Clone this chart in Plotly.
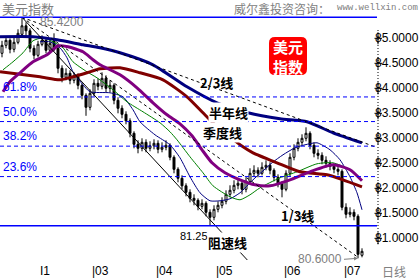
import plotly.graph_objects as go

W, H = 420, 280
ML, MR, MT, MB = 0, 42, 0, 20
PW, PH = W - ML - MR, H - MT - MB  # plot area 378 x 260


def px(xp):
    return xp / PW


def py(yp):
    return (PH - yp) / PH


# ---------------- data ----------------
idx = list(range(91))
opens = [84.70, 84.86, 84.96, 84.78, 84.92, 85.08, 85.25, 85.15, 84.80, 84.66,
         84.88, 84.96, 84.76, 84.95, 84.80, 84.40, 84.22, 84.30, 84.16, 84.24,
         84.06, 83.86, 83.62, 83.90, 84.10, 84.04, 84.20, 84.00, 84.06, 83.76,
         83.60, 83.48, 83.35, 83.10, 82.88, 82.80, 82.92, 82.80, 82.85, 82.90,
         82.78, 82.82, 82.86, 82.62, 82.38, 82.20, 82.05, 81.92, 81.80, 81.76,
         81.64, 81.70, 81.52, 81.42, 81.58, 81.66, 81.74, 81.88, 81.96, 82.06,
         82.10, 81.98, 82.14, 82.30, 82.36, 82.30, 82.42, 82.46, 82.36, 82.22,
         82.10, 81.98, 82.30, 82.62, 82.80, 82.92, 83.00, 83.10, 82.86, 82.70,
         82.66, 82.56, 82.50, 82.44, 82.38, 82.34, 81.62, 81.48, 81.52, 81.44,
         80.66]
closes = [84.86, 84.96, 84.78, 84.92, 85.10, 85.25, 85.15, 84.80, 84.66, 84.88,
          84.96, 84.76, 84.90, 84.80, 84.40, 84.22, 84.30, 84.16, 84.24, 84.06,
          83.86, 83.62, 83.90, 84.10, 84.04, 84.20, 84.00, 84.06, 83.76, 83.60,
          83.48, 83.35, 83.10, 82.88, 82.80, 82.92, 82.80, 82.85, 82.90, 82.78,
          82.82, 82.86, 82.62, 82.38, 82.20, 82.05, 81.92, 81.80, 81.76, 81.64,
          81.70, 81.52, 81.42, 81.58, 81.66, 81.74, 81.88, 81.96, 82.06, 82.10,
          81.98, 82.14, 82.30, 82.36, 82.30, 82.42, 82.46, 82.36, 82.22, 82.10,
          81.98, 82.30, 82.62, 82.80, 82.92, 83.00, 83.10, 82.86, 82.70, 82.66,
          82.56, 82.50, 82.44, 82.38, 82.34, 81.62, 81.48, 81.52, 81.44, 80.68,
          80.74]
highs = [84.95, 85.04, 85.00, 85.02, 85.18, 85.42, 85.32, 85.20, 84.86, 84.95,
         85.06, 85.00, 84.98, 85.10, 84.84, 84.46, 84.40, 84.36, 84.32, 84.30,
         84.10, 83.90, 83.98, 84.18, 84.20, 84.32, 84.26, 84.16, 84.10, 83.82,
         83.66, 83.54, 83.40, 83.14, 82.96, 83.00, 82.98, 82.94, 82.98, 82.96,
         82.92, 82.96, 82.90, 82.66, 82.42, 82.26, 82.10, 81.98, 81.88, 81.80,
         81.78, 81.74, 81.58, 81.66, 81.74, 81.82, 81.96, 82.06, 82.16, 82.20,
         82.14, 82.22, 82.40, 82.46, 82.42, 82.52, 82.56, 82.52, 82.40, 82.28,
         82.14, 82.36, 82.70, 82.88, 83.00, 83.08, 83.22, 83.14, 82.92, 82.78,
         82.72, 82.64, 82.56, 82.50, 82.44, 82.38, 81.70, 81.62, 81.58, 81.48,
         80.80]
lows = [84.62, 84.80, 84.70, 84.72, 84.88, 85.02, 85.05, 84.72, 84.58, 84.62,
        84.84, 84.70, 84.72, 84.74, 84.30, 84.12, 84.16, 84.08, 84.10, 83.98,
        83.78, 83.45, 83.56, 83.84, 83.96, 83.98, 83.92, 83.92, 83.68, 83.50,
        83.40, 83.28, 83.02, 82.80, 82.70, 82.74, 82.72, 82.74, 82.78, 82.70,
        82.72, 82.76, 82.56, 82.30, 82.12, 81.98, 81.84, 81.72, 81.66, 81.56,
        81.58, 81.44, 81.25, 81.36, 81.52, 81.60, 81.68, 81.82, 81.90, 81.98,
        81.88, 81.92, 82.08, 82.24, 82.22, 82.26, 82.36, 82.28, 82.14, 82.02,
        81.82, 81.94, 82.24, 82.56, 82.74, 82.86, 82.94, 82.78, 82.62, 82.58,
        82.48, 82.42, 82.36, 82.30, 82.26, 81.56, 81.40, 81.42, 81.36, 80.60,
        80.62]

# moving-average style lines (x in candle index)
halfyear_x = [-0.5, 7.75, 13.75, 20.25, 24.5, 29.5, 37.75, 46.25, 53.75, 61.5, 69.5, 76.25, 82.75, 90]
halfyear_y = [85.03, 85.03, 84.97, 84.87, 84.81, 84.71, 84.47, 84.03, 83.71, 83.51, 83.39, 83.33, 83.11, 82.91]

darkred_x = [-0.5, 9.5, 14.5, 17.75, 21.25, 24.5, 29.5, 34.5, 40.25, 46.25, 50.25, 52.75, 57, 60.25,
             62.75, 68.75, 74.5, 81.25, 85.25, 90]
darkred_y = [84.33, 84.23, 84.17, 84.23, 84.31, 84.39, 84.41, 84.31, 84.17, 83.83, 83.51, 83.31, 83.03,
             82.83, 82.71, 82.51, 82.33, 82.27, 82.17, 82.03]

purple_x = [0.25, 2, 4.5, 7.75, 11.25, 14, 16.5, 20.25, 22.75, 24.5, 29.5, 33.75, 37.75, 41.25, 44.5,
            47.5, 50, 52.5, 55.75, 59.5, 63.25, 67, 72, 77, 82.75, 87, 90]
purple_y = [83.93, 84.13, 84.31, 84.53, 84.67, 84.85, 84.83, 84.73, 84.57, 84.47, 84.27, 84.01, 83.71,
            83.47, 83.29, 83.05, 82.77, 82.51, 82.31, 82.17, 82.07, 82.05, 82.17, 82.33, 82.47, 82.37, 82.15]

green_x = [0.25, 2.75, 5.25, 7.75, 10.25, 12.75, 15.25, 17.75, 21.25, 23.75, 27.75, 31.25, 35.25, 39.5,
           42, 43.75, 47, 50.25, 52.75, 57, 59.5, 62, 64.5, 69.5, 73.75, 78.75, 82.75, 87, 89.5]
green_y = [84.37, 84.53, 84.71, 84.95, 85.01, 84.93, 84.81, 84.53, 84.33, 84.21, 83.97, 83.73, 83.53,
           83.31, 83.13, 82.97, 82.63, 82.31, 82.05, 81.83, 81.77, 81.87, 82.01, 82.21, 82.33, 82.49,
           82.51, 82.37, 82.17]

thin_x = [9.5, 12, 14.5, 16.25, 17.75, 20.25, 22, 27, 30.25, 32.75, 34.5, 38.25, 42, 44.5, 47, 49.5,
          52, 54.5, 57, 59.5, 62.75, 65, 67.5, 70.25, 73.25, 75.75, 78.75, 82, 84.5, 87, 88.75, 90]
thin_y = [84.93, 84.93, 84.81, 84.61, 84.33, 84.07, 83.93, 83.91, 83.83, 83.57, 83.33, 83.07, 82.87,
          82.61, 82.23, 81.91, 81.75, 81.75, 81.79, 81.91, 82.17, 82.33, 82.51, 82.67, 82.81, 82.87,
          82.91, 82.77, 82.57, 82.23, 81.91, 81.57]

peak_i, peak_v = 5, 85.42
low_i, low_v = 52, 81.25
last_low_i, last_low_v = 89, 80.60
line23_end = (93.25, 82.83)
line13_end = (89, 80.62)
speed_end = (61.75, 80.53)

fib_ratios = [0.618, 0.5, 0.382, 0.236]
fib_labels = ["61.8%", "50.0%", "38.2%", "23.6%"]

ytick_vals = [85.0, 84.5, 84.0, 83.5, 83.0, 82.5, 82.0, 81.5, 81.0]
xtick_pos = [9, 22, 38, 53, 70, 85]
xtick_text = ["I1", "|03", "|04", "|05", "|06", "|07"]

# ---------------- figure ----------------
X0, X1 = -0.5, 94.0
Y0, Y1 = 80.566, 85.766

fig = go.Figure()
fig.add_trace(go.Candlestick(
    x=idx, open=opens, high=highs, low=lows, close=closes,
    increasing=dict(line=dict(color="black", width=1), fillcolor="white"),
    decreasing=dict(line=dict(color="black", width=1), fillcolor="black"),
    whiskerwidth=0, showlegend=False, hoverinfo="skip"))


def line(x, y, color, width, dash="solid"):
    fig.add_trace(go.Scatter(x=x, y=y, mode="lines",
                             line=dict(color=color, width=width, dash=dash, shape="spline", smoothing=0.6),
                             showlegend=False, hoverinfo="skip"))


line(thin_x, thin_y, "#000080", 1)
line(green_x, green_y, "#008000", 1)
line(darkred_x, darkred_y, "#800000", 3)
line(purple_x, purple_y, "#800080", 3)
line(halfyear_x, halfyear_y, "#000080", 3)

# trend / speed-resistance lines from the peak
fig.add_trace(go.Scatter(x=[peak_i, line23_end[0]], y=[peak_v, line23_end[1]], mode="lines",
                         line=dict(color="black", width=1, dash="3px,3px"), showlegend=False, hoverinfo="skip"))
fig.add_trace(go.Scatter(x=[peak_i, line13_end[0]], y=[peak_v, line13_end[1]], mode="lines",
                         line=dict(color="black", width=1, dash="3px,3px"), showlegend=False, hoverinfo="skip"))
fig.add_trace(go.Scatter(x=[peak_i, speed_end[0]], y=[peak_v, speed_end[1]], mode="lines",
                         line=dict(color="black", width=1), showlegend=False, hoverinfo="skip"))

# horizontal high / low lines and fibonacci levels
XR = 93.75
for v in [peak_v, low_v]:
    fig.add_trace(go.Scatter(x=[X0, XR], y=[v, v], mode="lines", line=dict(color="#0000FF", width=1.5),
                             showlegend=False, hoverinfo="skip"))
rng = peak_v - low_v
for r, lab in zip(fib_ratios, fib_labels):
    v = low_v + r * rng
    fig.add_trace(go.Scatter(x=[X0, 93.5], y=[v, v], mode="lines",
                             line=dict(color="#0000FF", width=1, dash="4px,3px"),
                             showlegend=False, hoverinfo="skip"))
    fig.add_annotation(x=0, xref="paper", y=v, yref="y", text=lab, showarrow=False,
                       xanchor="left", yanchor="bottom", yshift=1, xshift=1,
                       font=dict(family="Liberation Sans", size=12, color="#0000FF"))

shapes = []
# right axis: dotted line + ticks
shapes.append(dict(type="line", xref="paper", yref="paper", x0=px(378), x1=px(378), y0=py(30), y1=py(246),
                   line=dict(color="black", width=1, dash="1px,2px")))
for v in ytick_vals:
    shapes.append(dict(type="line", xref="paper", yref="y", x0=px(374.5), x1=px(382), y0=v, y1=v,
                       line=dict(color="black", width=1)))
    shapes.append(dict(type="line", xref="paper", yref="y", x0=px(378), x1=px(378), y0=v - 0.12, y1=v + 0.12,
                       line=dict(color="black", width=1)))
    fig.add_annotation(x=px(373), xref="paper", y=v, yref="y", text=f"{v:.4f}", showarrow=False,
                       xanchor="left", yanchor="middle",
                       font=dict(family="Liberation Sans", size=12, color="black"))


# red badge
def rr(x0, y0, x1, y1, r):
    P = lambda a, b: f"{px(a):.5f},{py(b):.5f}"
    return (f"M {P(x0 + r, y0)} L {P(x1 - r, y0)} Q {P(x1, y0)} {P(x1, y0 + r)} "
            f"L {P(x1, y1 - r)} Q {P(x1, y1)} {P(x1 - r, y1)} L {P(x0 + r, y1)} "
            f"Q {P(x0, y1)} {P(x0, y1 - r)} L {P(x0, y0 + r)} Q {P(x0, y0)} {P(x0 + r, y0)} Z")


shapes.append(dict(type="path", xref="paper", yref="paper", path=rr(269, 37, 307, 75, 6),
                   fillcolor="#FF0000", line=dict(color="#FF0000", width=0)))
fig.update_layout(shapes=shapes)

CJK = "Noto Sans CJK SC"
fig.add_annotation(x=px(288), y=py(56), xref="paper", yref="paper", text="<b>美元</b><br><b>指数</b>",
                   showarrow=False, xanchor="center", yanchor="middle",
                   font=dict(family=CJK, size=15, color="white"))

# header texts
fig.add_annotation(x=0, y=py(8), xref="paper", yref="paper", text="美元指数", showarrow=False,
                   xanchor="left", yanchor="middle", font=dict(family=CJK, size=13, color="#808080"))
fig.add_annotation(x=px(232), y=py(8), xref="paper", yref="paper", text="威尔鑫投资咨询：", showarrow=False,
                   xanchor="left", yanchor="middle", font=dict(family=CJK, size=12, color="#808080"))
fig.add_annotation(x=px(420), y=py(8), xref="paper", yref="paper", text="www.wellxin.com", showarrow=False,
                   xanchor="right", yanchor="middle", font=dict(family="Liberation Mono", size=9, color="#808080"))

# value labels
fig.add_annotation(x=peak_i, y=peak_v, xref="x", yref="y", text=f"{peak_v:.4f}", showarrow=False,
                   xanchor="left", yanchor="middle", xshift=16, yshift=-5,
                   font=dict(family="Liberation Sans", size=12, color="#808080"))
fig.add_annotation(x=low_i, y=low_v, xref="x", yref="y", text=f"{low_v:.2f}", showarrow=False,
                   xanchor="right", yanchor="middle", xshift=0, yshift=-10,
                   font=dict(family="Liberation Sans", size=11, color="black"))
fig.add_annotation(x=last_low_i, y=last_low_v, xref="x", yref="y", text=f"{last_low_v:.4f}",
                   showarrow=True, arrowhead=2, arrowsize=0.8, arrowwidth=1, arrowcolor="#808080",
                   ax=-14, ay=1, xanchor="right", yanchor="middle",
                   font=dict(family="Liberation Sans", size=12, color="#808080"))


# line labels
def lab(x, y, text, size=13, bg=None):
    fig.add_annotation(x=px(x), y=py(y), xref="paper", yref="paper", text=f"<b>{text}</b>", showarrow=False,
                       xanchor="center", yanchor="middle", bgcolor=bg, borderpad=0,
                       font=dict(family=CJK, size=size, color="black"))


lab(216, 82, "2/3线", 13)
lab(228, 112, "半年线", 13, "white")
lab(222, 132, "季度线", 13, "white")
lab(297, 216, "1/3线", 13)
lab(227, 242, "阻速线", 13, "white")

# x labels
for p, t in zip(xtick_pos, xtick_text):
    fig.add_annotation(x=p, y=py(271), xref="x", yref="paper", text=t, showarrow=False,
                       xanchor="left", yanchor="middle",
                       font=dict(family="Liberation Sans", size=12, color="black"))
fig.add_annotation(x=px(380), y=py(271), xref="paper", yref="paper", text="日线", showarrow=False,
                   xanchor="left", yanchor="middle", font=dict(family=CJK, size=12, color="#808080"))

fig.update_layout(
    width=W, height=H, margin=dict(l=ML, r=MR, t=MT, b=MB),
    paper_bgcolor="white", plot_bgcolor="white",
    xaxis=dict(range=[X0, X1], visible=False, rangeslider=dict(visible=False), fixedrange=True),
    yaxis=dict(range=[Y0, Y1], visible=False, fixedrange=True),
    showlegend=False, font=dict(family="Liberation Sans"),
)
fig.write_html("out.html")
